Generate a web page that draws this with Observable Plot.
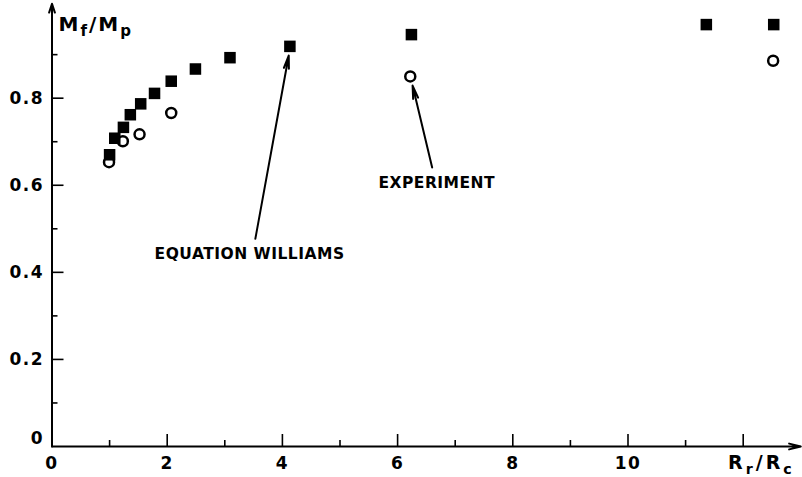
<!DOCTYPE html>
<html><head><meta charset="utf-8">
<script src="https://cdn.jsdelivr.net/npm/d3@7"></script>
<script src="https://cdn.jsdelivr.net/npm/@observablehq/plot@0.6"></script>
<style>
body{margin:0;background:#fff}
svg{display:block}
g[aria-label="x-axis tick label"] text, g[aria-label="y-axis tick label"] text {letter-spacing:1.5px}
g.ytitle text {letter-spacing:2px}
g.xtitle text {letter-spacing:3px}
g.note text {letter-spacing:0.5px}
</style>
</head><body><div id="chart"></div>
<script>
// Equation Williams (filled squares)
const williamsX = [1.00, 1.09, 1.24, 1.36, 1.54, 1.78, 2.07, 2.49, 3.09, 4.13, 6.24, 11.36, 12.53];
const williamsY = [0.670, 0.708, 0.733, 0.762, 0.787, 0.811, 0.839, 0.867, 0.893, 0.919, 0.946, 0.969, 0.969];
// Experiment (open circles)
const experimentX = [0.99, 1.23, 1.52, 2.07, 6.22, 12.52];
const experimentY = [0.653, 0.701, 0.717, 0.766, 0.850, 0.886];
// ticks
const xTickValues = [0, 2, 4, 6, 8, 10];
const xTickLabels = ["0", "2", "4", "6", "8", "10"];
const xMajorTicks = [2, 4, 6, 8, 10, 12];
const xMinorTicks = [1, 3, 5, 7, 9, 11];
const yTickValues = [0.2, 0.4, 0.6, 0.8];
const yTickLabels = ["0.2", "0.4", "0.6", "0.8"];
const yZeroLabel = ["0"];
const yMajorTicks = [0.2, 0.4, 0.6, 0.8];
const yMinorTicks = [0.1, 0.3, 0.5, 0.7, 0.9];
// axis titles
const xTitle = ["R_r/R_c"];
const yTitle = ["M_f/M_p"];
// annotations
const noteText = ["EQUATION WILLIAMS", "EXPERIMENT"];
const noteX = [3.43, 6.68];
const noteY = [0.443, 0.604];
const arrowFromX = [3.53, 6.60];
const arrowFromY = [0.477, 0.641];
const arrowToX = [4.11, 6.26];
const arrowToY = [0.898, 0.829];
const xDomain = [0, 13];
const yDomain = [0, 1.017];

const williams = williamsX.map((x, i) => ({x, y: williamsY[i]}));
const experiment = experimentX.map((x, i) => ({x, y: experimentY[i]}));
const notes = noteText.map((t, i) => ({t, x: noteX[i], y: noteY[i]}));
const arrows = arrowFromX.map((x1, i) => ({x1, y1: arrowFromY[i], x2: arrowToX[i], y2: arrowToY[i]}));

const W = 802, H = 477, mL = 51.5, mR = 1.7, mT = 3.2, mB = 31;
const plotW = W - mL - mR, plotH = H - mT - mB;
const font = "DejaVu Sans";
const tick = (len) => ({x: {insetTop: plotH - len}, y: {insetRight: plotW - len}});

const chart = Plot.plot({
  width: W, height: H,
  marginLeft: mL, marginRight: mR, marginTop: mT, marginBottom: mB,
  x: {domain: xDomain},
  y: {domain: yDomain},
  style: {fontFamily: font, background: "white", color: "black"},
  marks: [
    // inward ticks
    Plot.ruleX(xMajorTicks, {x: d => d, ...tick(12).x, stroke: "black", strokeWidth: 1.6}),
    Plot.ruleX(xMinorTicks, {x: d => d, ...tick(6).x, stroke: "black", strokeWidth: 1.6}),
    Plot.ruleY(yMajorTicks, {y: d => d, ...tick(12).y, stroke: "black", strokeWidth: 1.6}),
    Plot.ruleY(yMinorTicks, {y: d => d, ...tick(6).y, stroke: "black", strokeWidth: 1.6}),
    // axes lines with arrowheads
    Plot.arrow([xDomain], {x1: d => d[0], x2: d => d[1], y1: 0, y2: 0, stroke: "black", strokeWidth: 2, headAngle: 28, headLength: 9}),
    Plot.arrow([yDomain], {x1: 0, x2: 0, y1: d => d[0], y2: d => d[1], stroke: "black", strokeWidth: 2, headAngle: 36, headLength: 7}),
    // tick labels
    Plot.axisX(xTickValues, {tickSize: 0, tickPadding: 10, fontSize: 17, fontWeight: "bold", label: null,
      tickFormat: d => xTickLabels[xTickValues.indexOf(d)]}),
    Plot.axisY(yTickValues, {tickSize: 0, tickPadding: 8, fontSize: 17, fontWeight: "bold", label: null,
      tickFormat: d => yTickLabels[yTickValues.indexOf(d)]}),
    Plot.axisY([0], {tickSize: 0, tickPadding: 8, fontSize: 17, fontWeight: "bold", label: null, dy: -8,
      tickFormat: () => yZeroLabel[0]}),
    // axis titles
    Plot.text(yTitle, {frameAnchor: "top-left", textAnchor: "start", lineAnchor: "top", dx: 6.5, dy: 13, fontSize: 20, fontWeight: "bold", className: "ytitle", fill: "black"}),
    Plot.text(xTitle, {frameAnchor: "bottom-right", textAnchor: "end", lineAnchor: "middle", dx: -6, dy: 16, fontSize: 19, fontWeight: "bold", className: "xtitle", fill: "black"}),
    // annotation arrows & labels
    Plot.arrow(arrows, {x1: "x1", y1: "y1", x2: "x2", y2: "y2", stroke: "black", strokeWidth: 2, headAngle: 22, headLength: 10}),
    Plot.text(notes, {x: "x", y: "y", text: "t", fontSize: 15.5, fontWeight: "bold", fill: "black", className: "note"}),
    // data
    Plot.dot(experiment, {x: "x", y: "y", symbol: "circle", r: 5, fill: "white", stroke: "black", strokeWidth: 2.5}),
    Plot.dot(williams, {x: "x", y: "y", symbol: "square", r: 6.5, fill: "black", stroke: "none"})
  ]
});
document.getElementById("chart").appendChild(chart);

// subscripts in axis titles: "_x" -> subscript x
d3.select(chart).selectAll("g.ytitle text, g.xtitle text").each(function() {
  const t = this.textContent;
  const el = d3.select(this);
  el.text(null);
  const parts = t.split(/_(.)/);
  parts.forEach((p, i) => {
    if (!p) return;
    const sub = i % 2 === 1;
    el.append("tspan")
      .attr("font-size", sub ? "75%" : null)
      .attr("dy", sub ? 5 : (i > 0 ? -5 : 0))
      .text(p);
  });
});
</script>
</body></html>
